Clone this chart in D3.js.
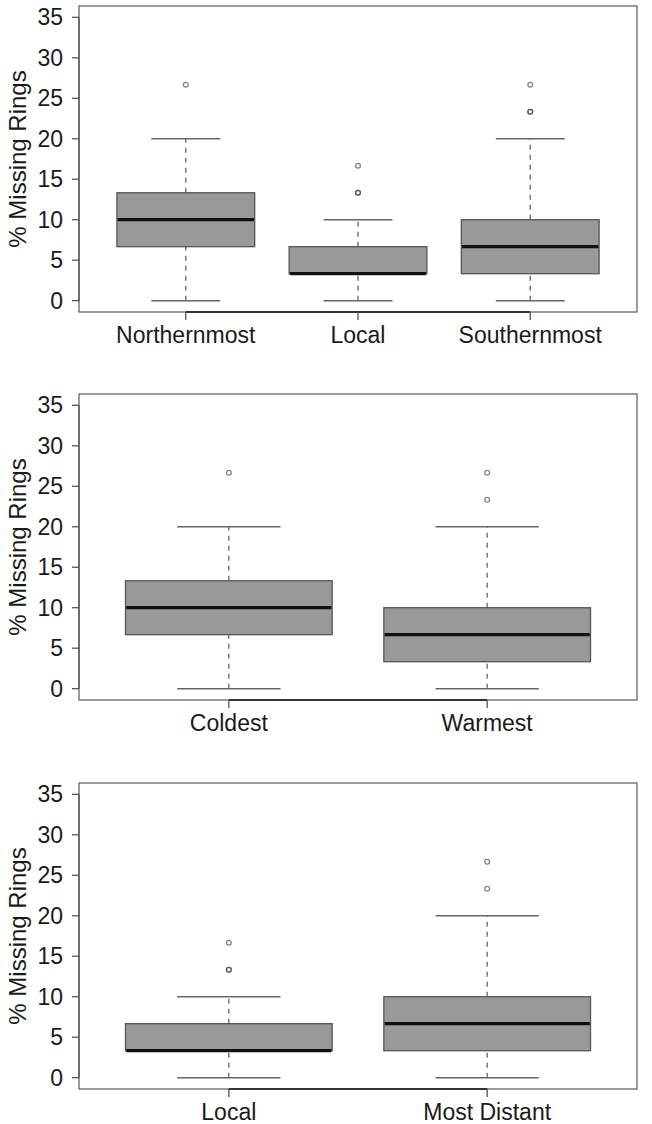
<!DOCTYPE html>
<html>
<head>
<meta charset="utf-8">
<script src="https://cdn.jsdelivr.net/npm/d3@7"></script>
<style>
  body { margin: 0; background: #fff; }
  svg { display: block; }
  text { font-family: "Liberation Sans", Arial, sans-serif; fill: #1a1a1a; }
</style>
</head>
<body>
<svg id="chart" width="652" height="1124"></svg>
<script>
// values (R boxplot stats)
const yTicks = [0, 5, 10, 15, 20, 25, 30, 35];
const yTitle = "% Missing Rings";

const p1Labels = ["Northernmost", "Local", "Southernmost"];
const p1Low = [0, 0, 0];
const p1Q1 = [6.67, 3.33, 3.33];
const p1Med = [10, 3.33, 6.67];
const p1Q3 = [13.33, 6.67, 10];
const p1High = [20, 10, 20];
const p1Out = [[26.67], [13.33, 13.33, 16.67], [23.33, 23.33, 26.67]];

const p2Labels = ["Coldest", "Warmest"];
const p2Low = [0, 0];
const p2Q1 = [6.67, 3.33];
const p2Med = [10, 6.67];
const p2Q3 = [13.33, 10];
const p2High = [20, 20];
const p2Out = [[26.67], [23.33, 26.67]];

const p3Labels = ["Local", "Most Distant"];
const p3Low = [0, 0];
const p3Q1 = [3.33, 3.33];
const p3Med = [3.33, 6.67];
const p3Q3 = [6.67, 10];
const p3High = [10, 20];
const p3Out = [[13.33, 13.33, 16.67], [23.33, 26.67]];

const svg = d3.select('#chart');
const frameL = 79, frameR = 637, frameH = 306;
const panelTops = [6, 394, 783];

const panels = [
  {labels: p1Labels, low: p1Low, q1: p1Q1, med: p1Med, q3: p1Q3, high: p1High, out: p1Out},
  {labels: p2Labels, low: p2Low, q1: p2Q1, med: p2Med, q3: p2Q3, high: p2High, out: p2Out},
  {labels: p3Labels, low: p3Low, q1: p3Q1, med: p3Med, q3: p3Q3, high: p3High, out: p3Out}
];

const drawPanel = function (p, top) {
  const n = p.labels.length;
  const bottom = top + frameH;
  const g = svg.append('g');

  // R style 4% padding on both axes
  const x = d3.scaleLinear().domain([0.5 - 0.04 * n, n + 0.5 + 0.04 * n]).range([frameL, frameR]);
  const y = d3.scaleLinear().domain([-1.4, 36.4]).range([bottom, top]);
  const boxW = x(1.8) - x(1);   // boxwex 0.8
  const capW = boxW / 2;        // staplewex 0.5

  const rows = p.labels.map((d, i) => ({
    label: d, pos: i + 1, low: p.low[i], q1: p.q1[i], med: p.med[i], q3: p.q3[i], high: p.high[i], out: p.out[i]
  }));

  // whiskers (dashed)
  g.selectAll('.whisk').data(rows).join('g').each(function (d) {
    const s = d3.select(this);
    const cx = x(d.pos);
    s.append('line').attr('x1', cx).attr('x2', cx).attr('y1', y(d.q3)).attr('y2', y(d.high))
      .attr('stroke', '#666').attr('stroke-width', 1.3).attr('stroke-dasharray', '5,5');
    s.append('line').attr('x1', cx).attr('x2', cx).attr('y1', y(d.low)).attr('y2', y(d.q1))
      .attr('stroke', '#666').attr('stroke-width', 1.3).attr('stroke-dasharray', '5,5');
    s.append('line').attr('x1', cx - capW / 2).attr('x2', cx + capW / 2).attr('y1', y(d.high)).attr('y2', y(d.high))
      .attr('stroke', '#666').attr('stroke-width', 1.5);
    s.append('line').attr('x1', cx - capW / 2).attr('x2', cx + capW / 2).attr('y1', y(d.low)).attr('y2', y(d.low))
      .attr('stroke', '#666').attr('stroke-width', 1.5);
  });

  // boxes
  g.selectAll('.box').data(rows).join('rect')
    .attr('x', d => x(d.pos) - boxW / 2)
    .attr('y', d => y(d.q3))
    .attr('width', boxW)
    .attr('height', d => y(d.q1) - y(d.q3))
    .attr('fill', '#999999')
    .attr('stroke', '#555')
    .attr('stroke-width', 1.3);

  // medians
  g.selectAll('.med').data(rows).join('line')
    .attr('x1', d => x(d.pos) - boxW / 2 + 0.7)
    .attr('x2', d => x(d.pos) + boxW / 2 - 0.7)
    .attr('y1', d => y(d.med))
    .attr('y2', d => y(d.med))
    .attr('stroke', '#111')
    .attr('stroke-width', 3.2);

  // outliers, repeated values overlap and look darker
  const pts = rows.flatMap(d => d.out.map(v => ({pos: d.pos, v: v})));
  g.selectAll('.out').data(pts).join('circle')
    .attr('cx', d => x(d.pos))
    .attr('cy', d => y(d.v))
    .attr('r', 2.4)
    .attr('fill', 'none')
    .attr('stroke', '#333')
    .attr('stroke-opacity', 0.6)
    .attr('stroke-width', 1.3);

  // frame
  g.append('rect').attr('x', frameL).attr('y', top).attr('width', frameR - frameL).attr('height', frameH)
    .attr('fill', 'none').attr('stroke', '#666').attr('stroke-width', 1.3);

  // y axis
  g.append('line').attr('x1', frameL).attr('x2', frameL).attr('y1', y(0)).attr('y2', y(35))
    .attr('stroke', '#555').attr('stroke-width', 1.3);
  g.selectAll('.ytick').data(yTicks).join('line')
    .attr('x1', frameL - 7).attr('x2', frameL)
    .attr('y1', d => y(d)).attr('y2', d => y(d))
    .attr('stroke', '#555').attr('stroke-width', 1.3);
  g.selectAll('.ylab').data(yTicks).join('text')
    .attr('x', frameL - 16).attr('y', d => y(d))
    .attr('dy', '0.35em')
    .attr('text-anchor', 'end')
    .style('font-size', '23px')
    .text(d => d);

  // x axis
  g.append('line').attr('x1', x(1)).attr('x2', x(n)).attr('y1', bottom).attr('y2', bottom)
    .attr('stroke', '#333').attr('stroke-width', 1.8);
  g.selectAll('.xtick').data(rows).join('line')
    .attr('x1', d => x(d.pos)).attr('x2', d => x(d.pos))
    .attr('y1', bottom).attr('y2', bottom + 8)
    .attr('stroke', '#555').attr('stroke-width', 1.3);
  g.selectAll('.xlab').data(rows).join('text')
    .attr('x', d => x(d.pos)).attr('y', bottom + 31)
    .attr('text-anchor', 'middle')
    .style('font-size', '23px')
    .text(d => d.label);

  // y title
  g.append('text')
    .attr('transform', `translate(26, ${(top + bottom) / 2}) rotate(-90)`)
    .attr('text-anchor', 'middle')
    .style('font-size', '24px')
    .text(yTitle);
};

panels.forEach((p, i) => drawPanel(p, panelTops[i]));
</script>
</body>
</html>
